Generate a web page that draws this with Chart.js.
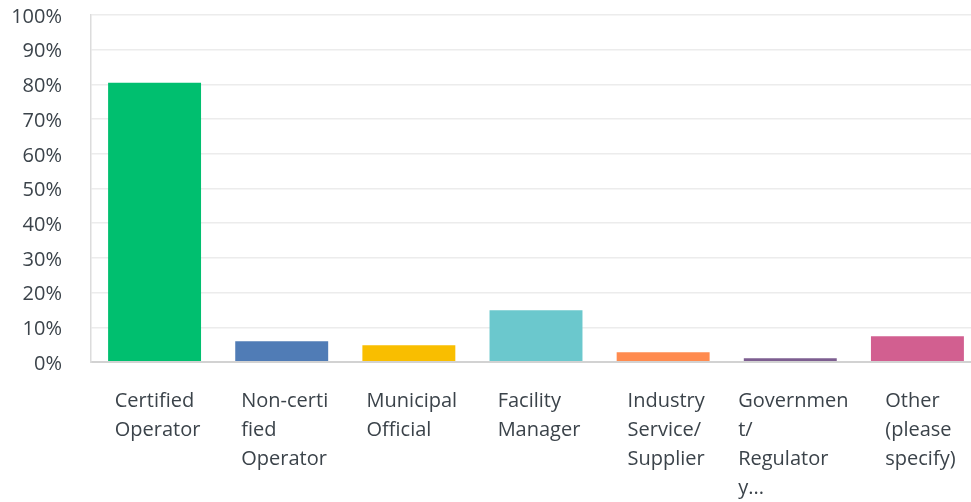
<!DOCTYPE html>
<html>
<head>
<meta charset="utf-8">
<script src="https://cdn.jsdelivr.net/npm/chart.js@4.4.0/dist/chart.umd.min.js"></script>
<style>
  body { margin: 0; overflow: hidden; background: #fff; }
  #wrap { width: 981px; height: 502px; }
</style>
</head>
<body>
<div id="wrap"><canvas id="chart"></canvas></div>
<script>
// answer choices (wrapped the same way as the original)
var categories = [
  ['Certified', 'Operator'],
  ['Non-certi', 'fied', 'Operator'],
  ['Municipal', 'Official'],
  ['Facility', 'Manager'],
  ['Industry', 'Service/', 'Supplier'],
  ['Governmen', 't/', 'Regulator', 'y...'],
  ['Other', '(please', 'specify)']
];
var responses = [80.5, 6.0, 4.8, 14.9, 2.8, 1.1, 7.4];
var barColors = ['#00bf6f', '#507cb6', '#f9be00', '#6bc8cd', '#ff8b4f', '#7d5e90', '#d25f90'];
var yTicks = [0, 10, 20, 30, 40, 50, 60, 70, 80, 90, 100];

var FONT = '"Open Sans", sans-serif';
var TEXT = '#3b434a';

// labels under the bars: block centred on the bar, lines left aligned
var blockLabels = {
  id: 'blockLabels',
  afterDraw: function(chart) {
    var ctx = chart.ctx;
    var x = chart.scales.x;
    ctx.save();
    ctx.font = '20px ' + FONT;
    ctx.fillStyle = TEXT;
    ctx.textBaseline = 'middle';
    ctx.textAlign = 'left';
    categories.forEach(function(lines, i) {
      var w = 0;
      lines.forEach(function(l) { w = Math.max(w, ctx.measureText(l).width); });
      var left = x.getPixelForValue(i) - w / 2 + 3;
      lines.forEach(function(l, j) {
        ctx.fillText(l, left, x.top + 39 + j * 29);
      });
    });
    ctx.restore();
  }
};

new Chart(document.getElementById('chart'), {
  type: 'bar',
  data: {
    labels: categories.map(function(c) { return c.join(' '); }),
    datasets: [{
      data: responses,
      backgroundColor: barColors,
      borderWidth: 0,
      categoryPercentage: 1,
      barPercentage: 0.731
    }]
  },
  options: {
    responsive: true,
    maintainAspectRatio: false,
    animation: false,
    layout: { padding: { top: 15, right: 0, left: 0, bottom: 0 } },
    plugins: { legend: { display: false }, tooltip: { enabled: false } },
    scales: {
      x: {
        grid: { display: false },
        border: { display: true, color: '#d2d2d2', width: 2 },
        ticks: { display: false },
        afterFit: function(s) { s.height = 140; s.paddingTop = 0; }
      },
      y: {
        min: 0,
        max: 100,
        afterBuildTicks: function(s) {
          s.ticks = yTicks.map(function(v) { return { value: v }; });
        },
        grid: {
          drawTicks: false,
          color: function(c) { return c.tick && c.tick.value === 0 ? '#d2d2d2' : '#ececec'; },
          lineWidth: function(c) { return c.tick && c.tick.value === 0 ? 2 : 1.5; }
        },
        border: { display: true, color: '#dcdcdc', width: 1.5 },
        ticks: {
          padding: 29,
          labelOffset: 2,
          color: TEXT,
          font: { family: FONT, size: 20 },
          callback: function(v) { return v + '%'; }
        },
        afterFit: function(s) { s.width = 91; s.paddingTop = 0; s.paddingBottom = 0; }
      }
    }
  },
  plugins: [blockLabels]
});
</script>
</body>
</html>
